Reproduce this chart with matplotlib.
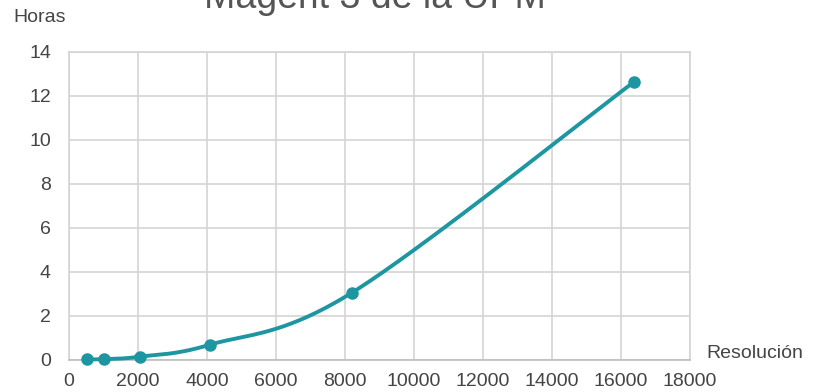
import numpy as np
import matplotlib.pyplot as plt

plt.rcParams['font.family'] = ['Liberation Sans', 'DejaVu Sans']

# tiempo de cálculo frente a resolución
resolucion = [512, 1024, 2048, 4096, 8192, 16384]
horas = [0.03, 0.04, 0.15, 0.7, 3.05, 12.65]

xmax, ymax = 18000, 14
color = '#1e96a2'
gris = '#444444'


def suavizar(x, y, n=40):
    # curva tipo Bezier/Catmull-Rom como la línea suavizada de una hoja de cálculo
    p = np.column_stack([np.asarray(x, float) / xmax, np.asarray(y, float) / ymax])
    p = np.vstack([p[0], p, p[-1]])
    out = []
    t = np.linspace(0, 1, n)[:, None]
    for i in range(1, len(p) - 2):
        p0, p1, p2, p3 = p[i - 1], p[i], p[i + 1], p[i + 2]
        c1 = p1 + (p2 - p0) / 6
        c2 = p2 - (p3 - p1) / 6
        seg = ((1 - t) ** 3) * p1 + 3 * ((1 - t) ** 2) * t * c1 + 3 * (1 - t) * t ** 2 * c2 + t ** 3 * p2
        out.append(seg)
    out = np.vstack(out)
    return out[:, 0] * xmax, out[:, 1] * ymax


fig = plt.figure(figsize=(8.22, 3.92), dpi=100)
ax = fig.add_axes([69 / 822, 32 / 392, 621 / 822, 308 / 392])

sx, sy = suavizar(resolucion, horas)
ax.plot(sx, sy, color=color, lw=2.8, solid_capstyle='round', zorder=3, clip_on=False)
ax.plot(resolucion, horas, 'o', color=color, ms=8, zorder=4, clip_on=False)

ax.set_xlim(0, xmax)
ax.set_ylim(0, ymax)
ax.set_xticks(range(0, 18001, 2000))
ax.set_yticks(range(0, 15, 2))
ax.grid(True, color='#d4d4d4', lw=1.2)
ax.set_axisbelow(True)
for s in ax.spines.values():
    s.set_color('#d4d4d4')
    s.set_linewidth(1.2)
ax.spines['bottom'].set_color('#bdbdbd')
ax.tick_params(length=0, labelsize=14, colors=gris)
ax.tick_params(axis='x', pad=9)
ax.tick_params(axis='y', pad=13)

fig.text(375 / 822, 1.005, 'Magerit 3 de la UPM', ha='center', va='center',
         fontsize=27, color='#555555')
fig.text(13 / 822, 1 - 18 / 392, 'Horas', ha='left', va='center', fontsize=14, color=gris)
fig.text(706 / 822, 1 - 353 / 392, 'Resolución', ha='left', va='center', fontsize=14, color=gris)

fig.savefig('out.png', dpi=100)
